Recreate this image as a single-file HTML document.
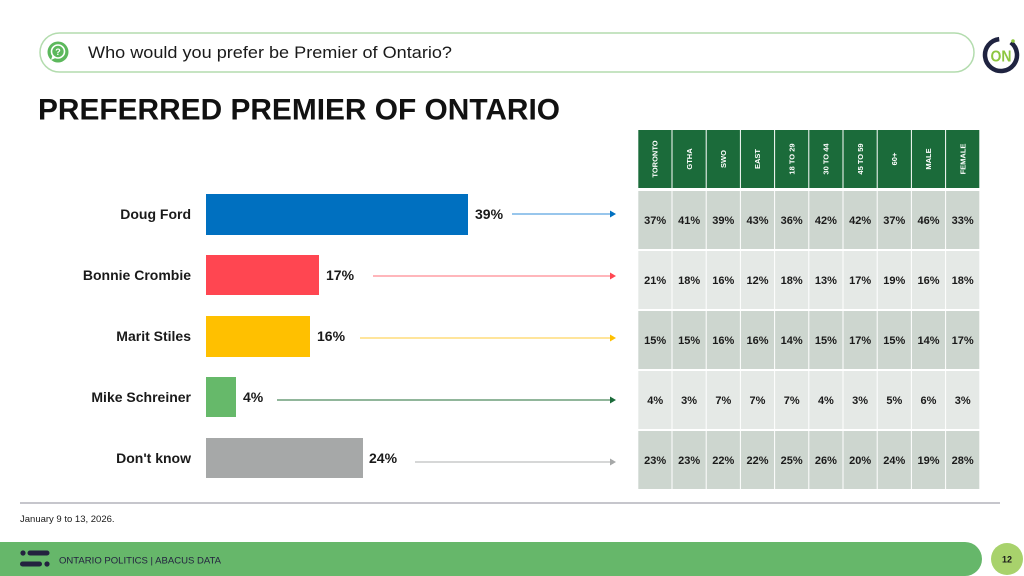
<!DOCTYPE html>
<html>
<head>
<meta charset="utf-8">
<style>
  html, body { margin:0; padding:0; background:#ffffff; }
  body { width:1024px; height:576px; overflow:hidden; }
  svg { display:block; font-family:"Liberation Sans", "DejaVu Sans", sans-serif; }
</style>
</head>
<body>
<svg width="1024" height="576" viewBox="0 0 1024 576" xmlns="http://www.w3.org/2000/svg">
  <rect x="0" y="0" width="1024" height="576" fill="#ffffff"/>

  <!-- Question pill -->
  <rect x="40" y="33" width="934" height="39" rx="19.5" ry="19.5" fill="#ffffff" stroke="#b3dcae" stroke-width="1.5"/>
  <circle cx="58" cy="52" r="10.5" fill="#5cb85c"/>
  <circle cx="58" cy="51.5" r="6.5" fill="none" stroke="#ffffff" stroke-width="1.6"/>
  <path d="M52.5 55.5 L51 60 L55.5 58 Z" fill="#ffffff"/>
  <text x="58" y="55" font-size="9" font-weight="bold" fill="#ffffff" text-anchor="middle">?</text>
  <text x="88" y="58" font-size="17" fill="#1a1a1a" textLength="364" lengthAdjust="spacingAndGlyphs">Who would you prefer be Premier of Ontario?</text>

  <!-- ON logo -->
  <circle cx="1001" cy="55" r="16" fill="none" stroke="#1f2340" stroke-width="4.5" stroke-dasharray="88 13" transform="rotate(-52 1001 55)"/>
  <circle cx="1013" cy="41" r="1.8" fill="#8dc63f"/>
  <text x="1001" y="61.5" font-size="16" font-weight="bold" fill="#8dc63f" text-anchor="middle" textLength="21" lengthAdjust="spacingAndGlyphs">ON</text>

  <!-- Title -->
  <text x="38" y="119.5" font-size="30" font-weight="bold" fill="#111111" textLength="522" lengthAdjust="spacingAndGlyphs">PREFERRED PREMIER OF ONTARIO</text>

  <!-- Bar labels -->
  <g font-size="14" font-weight="bold" fill="#1a1a1a" text-anchor="end">
    <text x="191" y="219">Doug Ford</text>
    <text x="191" y="280">Bonnie Crombie</text>
    <text x="191" y="341">Marit Stiles</text>
    <text x="191" y="402">Mike Schreiner</text>
    <text x="191" y="463">Don't know</text>
  </g>

  <!-- Bars -->
  <rect x="206" y="194" width="262" height="41" fill="#0070c0"/>
  <rect x="206" y="255" width="113" height="40" fill="#ff4651"/>
  <rect x="206" y="316" width="104" height="41" fill="#ffc000"/>
  <rect x="206" y="377" width="30" height="40" fill="#66b96a"/>
  <rect x="206" y="438" width="157" height="40" fill="#a6a8a8"/>

  <!-- Percent labels -->
  <g font-size="14" font-weight="bold" fill="#1a1a1a">
    <text x="475" y="219">39%</text>
    <text x="326" y="280">17%</text>
    <text x="317" y="341">16%</text>
    <text x="243" y="402">4%</text>
    <text x="369" y="463">24%</text>
  </g>

  <!-- Arrows -->
  <line x1="512" y1="214" x2="611" y2="214" stroke="#5aa3e0" stroke-width="1.2"/>
  <path d="M610 210.5 L616 214 L610 217.5 Z" fill="#0070c0"/>
  <line x1="373" y1="276" x2="611" y2="276" stroke="#ff8a92" stroke-width="1.2"/>
  <path d="M610 272.5 L616 276 L610 279.5 Z" fill="#ff4651"/>
  <line x1="360" y1="338" x2="611" y2="338" stroke="#ffd560" stroke-width="1.2"/>
  <path d="M610 334.5 L616 338 L610 341.5 Z" fill="#ffc000"/>
  <line x1="277" y1="400" x2="611" y2="400" stroke="#4f8a5f" stroke-width="1.2"/>
  <path d="M610 396.5 L616 400 L610 403.5 Z" fill="#1b6b3a"/>
  <line x1="415" y1="462" x2="611" y2="462" stroke="#bdbfbf" stroke-width="1.2"/>
  <path d="M610 458.5 L616 462 L610 465.5 Z" fill="#a6a8a8"/>

  <!-- Table -->
  <g id="table">
    <g fill="#1b6b3a">
      <rect x="638.3" y="130" width="33.2" height="58"/>
      <rect x="672.5" y="130" width="33.2" height="58"/>
      <rect x="706.7" y="130" width="33.2" height="58"/>
      <rect x="740.9" y="130" width="33.2" height="58"/>
      <rect x="775.1" y="130" width="33.2" height="58"/>
      <rect x="809.3" y="130" width="33.2" height="58"/>
      <rect x="843.5" y="130" width="33.2" height="58"/>
      <rect x="877.7" y="130" width="33.2" height="58"/>
      <rect x="911.9" y="130" width="33.2" height="58"/>
      <rect x="946.1" y="130" width="33.2" height="58"/>
    </g>
    <g font-size="7.5" font-weight="bold" fill="#ffffff" text-anchor="middle">
      <text transform="translate(657.6 159) rotate(-90)">TORONTO</text>
      <text transform="translate(691.8 159) rotate(-90)">GTHA</text>
      <text transform="translate(726.0 159) rotate(-90)">SWO</text>
      <text transform="translate(760.2 159) rotate(-90)">EAST</text>
      <text transform="translate(794.4 159) rotate(-90)">18 TO 29</text>
      <text transform="translate(828.6 159) rotate(-90)">30 TO 44</text>
      <text transform="translate(862.8 159) rotate(-90)">45 TO 59</text>
      <text transform="translate(897.0 159) rotate(-90)">60+</text>
      <text transform="translate(931.2 159) rotate(-90)">MALE</text>
      <text transform="translate(965.4 159) rotate(-90)">FEMALE</text>
    </g>

    <g fill="#cdd6cf">
      <rect x="638.3" y="191" width="33.2" height="58"/><rect x="672.5" y="191" width="33.2" height="58"/><rect x="706.7" y="191" width="33.2" height="58"/><rect x="740.9" y="191" width="33.2" height="58"/><rect x="775.1" y="191" width="33.2" height="58"/><rect x="809.3" y="191" width="33.2" height="58"/><rect x="843.5" y="191" width="33.2" height="58"/><rect x="877.7" y="191" width="33.2" height="58"/><rect x="911.9" y="191" width="33.2" height="58"/><rect x="946.1" y="191" width="33.2" height="58"/>
      <rect x="638.3" y="311" width="33.2" height="58"/><rect x="672.5" y="311" width="33.2" height="58"/><rect x="706.7" y="311" width="33.2" height="58"/><rect x="740.9" y="311" width="33.2" height="58"/><rect x="775.1" y="311" width="33.2" height="58"/><rect x="809.3" y="311" width="33.2" height="58"/><rect x="843.5" y="311" width="33.2" height="58"/><rect x="877.7" y="311" width="33.2" height="58"/><rect x="911.9" y="311" width="33.2" height="58"/><rect x="946.1" y="311" width="33.2" height="58"/>
      <rect x="638.3" y="431" width="33.2" height="58"/><rect x="672.5" y="431" width="33.2" height="58"/><rect x="706.7" y="431" width="33.2" height="58"/><rect x="740.9" y="431" width="33.2" height="58"/><rect x="775.1" y="431" width="33.2" height="58"/><rect x="809.3" y="431" width="33.2" height="58"/><rect x="843.5" y="431" width="33.2" height="58"/><rect x="877.7" y="431" width="33.2" height="58"/><rect x="911.9" y="431" width="33.2" height="58"/><rect x="946.1" y="431" width="33.2" height="58"/>
    </g>
    <g fill="#e5e9e6">
      <rect x="638.3" y="251" width="33.2" height="58"/><rect x="672.5" y="251" width="33.2" height="58"/><rect x="706.7" y="251" width="33.2" height="58"/><rect x="740.9" y="251" width="33.2" height="58"/><rect x="775.1" y="251" width="33.2" height="58"/><rect x="809.3" y="251" width="33.2" height="58"/><rect x="843.5" y="251" width="33.2" height="58"/><rect x="877.7" y="251" width="33.2" height="58"/><rect x="911.9" y="251" width="33.2" height="58"/><rect x="946.1" y="251" width="33.2" height="58"/>
      <rect x="638.3" y="371" width="33.2" height="58"/><rect x="672.5" y="371" width="33.2" height="58"/><rect x="706.7" y="371" width="33.2" height="58"/><rect x="740.9" y="371" width="33.2" height="58"/><rect x="775.1" y="371" width="33.2" height="58"/><rect x="809.3" y="371" width="33.2" height="58"/><rect x="843.5" y="371" width="33.2" height="58"/><rect x="877.7" y="371" width="33.2" height="58"/><rect x="911.9" y="371" width="33.2" height="58"/><rect x="946.1" y="371" width="33.2" height="58"/>
    </g>

    <g font-size="11" font-weight="bold" fill="#1a1a1a" text-anchor="middle">
      <text x="655.2" y="224">37%</text><text x="689.1" y="224">41%</text><text x="723.3" y="224">39%</text><text x="757.5" y="224">43%</text><text x="791.7" y="224">36%</text><text x="825.9" y="224">42%</text><text x="860.1" y="224">42%</text><text x="894.3" y="224">37%</text><text x="928.5" y="224">46%</text><text x="962.7" y="224">33%</text>
      <text x="655.2" y="284">21%</text><text x="689.1" y="284">18%</text><text x="723.3" y="284">16%</text><text x="757.5" y="284">12%</text><text x="791.7" y="284">18%</text><text x="825.9" y="284">13%</text><text x="860.1" y="284">17%</text><text x="894.3" y="284">19%</text><text x="928.5" y="284">16%</text><text x="962.7" y="284">18%</text>
      <text x="655.2" y="344">15%</text><text x="689.1" y="344">15%</text><text x="723.3" y="344">16%</text><text x="757.5" y="344">16%</text><text x="791.7" y="344">14%</text><text x="825.9" y="344">15%</text><text x="860.1" y="344">17%</text><text x="894.3" y="344">15%</text><text x="928.5" y="344">14%</text><text x="962.7" y="344">17%</text>
      <text x="655.2" y="404">4%</text><text x="689.1" y="404">3%</text><text x="723.3" y="404">7%</text><text x="757.5" y="404">7%</text><text x="791.7" y="404">7%</text><text x="825.9" y="404">4%</text><text x="860.1" y="404">3%</text><text x="894.3" y="404">5%</text><text x="928.5" y="404">6%</text><text x="962.7" y="404">3%</text>
      <text x="655.2" y="464">23%</text><text x="689.1" y="464">23%</text><text x="723.3" y="464">22%</text><text x="757.5" y="464">22%</text><text x="791.7" y="464">25%</text><text x="825.9" y="464">26%</text><text x="860.1" y="464">20%</text><text x="894.3" y="464">24%</text><text x="928.5" y="464">19%</text><text x="962.7" y="464">28%</text>
    </g>
  </g>

  <!-- separator + date -->
  <line x1="20" y1="503" x2="1000" y2="503" stroke="#8c8d99" stroke-width="1"/>
  <text x="20" y="522" font-size="9.5" fill="#1a1a1a">January 9 to 13, 2026.</text>

  <!-- footer -->
  <path d="M0 542 H965 A17 17 0 0 1 965 576 H0 Z" fill="#66b76a"/>
  <circle cx="1007" cy="559" r="16" fill="#a8d26c"/>
  <text x="1007" y="562.5" font-size="9" font-weight="bold" fill="#1a1a1a" text-anchor="middle">12</text>
  <g fill="#23223f">
    <circle cx="23" cy="553" r="2.6"/>
    <rect x="27.5" y="550.5" width="22" height="5" rx="2.5"/>
    <rect x="20" y="561.5" width="22" height="5" rx="2.5"/>
    <circle cx="47" cy="564" r="2.6"/>
  </g>
  <text x="59" y="563.5" font-size="9.5" fill="#23223f" textLength="162" lengthAdjust="spacingAndGlyphs">ONTARIO POLITICS  |  ABACUS DATA</text>
</svg>
</body>
</html>
